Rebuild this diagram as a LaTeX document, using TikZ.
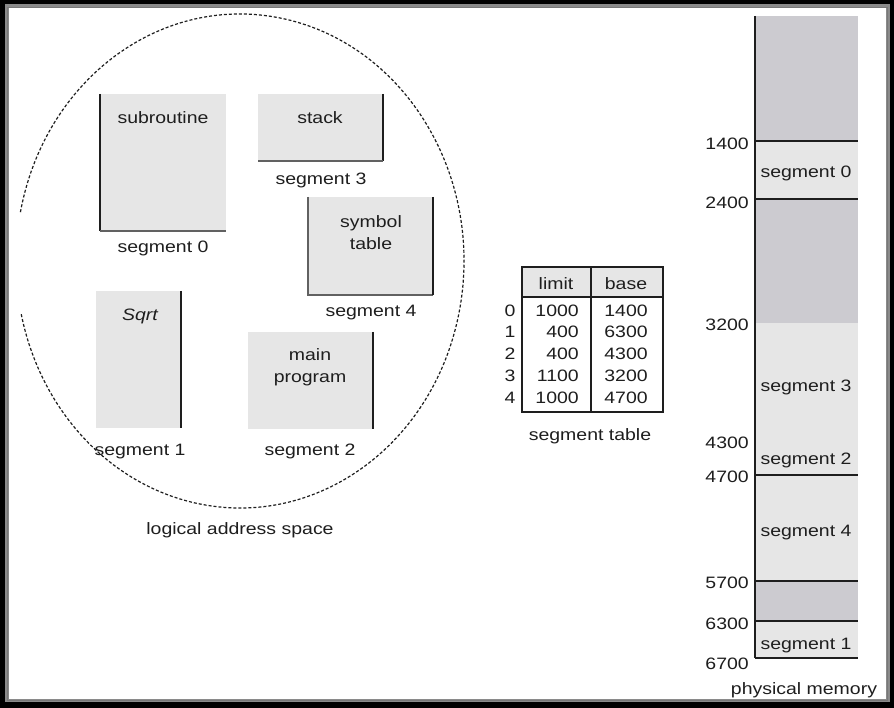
\documentclass[tikz,border=0pt]{standalone}
\usepackage{fontspec}
\setmainfont{Liberation Sans}[FakeStretch=1.18]
\definecolor{lightfill}{HTML}{E6E6E6}
\definecolor{darkfill}{HTML}{CCCBD0}
\definecolor{ink}{HTML}{1E1E1E}
\definecolor{framegray}{HTML}{8A8A8A}
\begin{document}
\begin{tikzpicture}[x=1pt,y=-1pt,
  lbl/.style={font=\fontsize{16.5}{22}\selectfont, text=ink, inner sep=0pt, anchor=mid, yshift=-4pt},
  mlbl/.style={font=\fontsize{16.5}{22}\selectfont, text=ink, inner sep=0pt, align=center, anchor=center, yshift=-1pt},
  edgeline/.style={draw=ink, line width=2pt},
  softline/.style={draw=ink!70, line width=1.2pt},
  tabline/.style={draw=ink, line width=1.6pt},
  memline/.style={draw=ink, line width=1.8pt},
  circline/.style={draw=ink, line width=1.2pt, dash pattern=on 3pt off 2pt}]
\useasboundingbox (0,0) rectangle (894,708);
% frame
\fill[black] (0,0) rectangle (894,708);
\fill[framegray] (4.5,4.5) rectangle (889.5,701.5);
\fill[white] (8.5,8.5) rectangle (886,698.5);
\draw[ink!60, line width=0.8pt] (7,7) rectangle (887.5,700);

% logical address space outline
\draw[circline] ([shift={(191.4:224 and 247)}]240,261) arc[start angle=191.4, end angle=527.8, x radius=224, y radius=247];

% subroutine / segment 0
\fill[lightfill] (100,94) rectangle (226,231);
\draw[edgeline] (100,94) -- (100,231);
\draw[softline] (100,231) -- (226,231);
\node[lbl] (sub) at (163,117) {subroutine};
\node[lbl] (s0) at (163,246) {segment 0};

% stack / segment 3
\fill[lightfill] (258,94) rectangle (383,161);
\draw[edgeline] (383,94) -- (383,161);
\draw[softline] (258,161) -- (383,161);
\node[lbl] (stk) at (320,117) {stack};
\node[lbl] (s3) at (321,178) {segment 3};

% symbol table / segment 4
\fill[lightfill] (308,197) rectangle (433,295);
\draw[softline] (308,197) -- (308,295) -- (433,295);
\draw[edgeline] (433,197) -- (433,295);
\node[mlbl] (sym) at (371,232) {symbol\\table};
\node[lbl] (s4) at (371,310) {segment 4};

% Sqrt / segment 1
\fill[lightfill] (96,291) rectangle (181,428);
\draw[edgeline] (181,291) -- (181,428);
\node[lbl] (sq) at (140,314) {\itshape Sqrt};
\node[lbl] (s1) at (140,449) {segment 1};

% main program / segment 2
\fill[lightfill] (248,332) rectangle (373,429);
\draw[edgeline] (373,332) -- (373,429);
\node[mlbl] (mp) at (310,366) {main\\program};
\node[lbl] (s2) at (310,449) {segment 2};

\node[lbl] (las) at (240,528) {logical address space};

% segment table
\fill[lightfill] (522,267) rectangle (663,297);
\draw[tabline] (522,267) rectangle (663,412);
\draw[tabline] (522,297) -- (663,297);
\draw[tabline] (591,267) -- (591,412);
\node[lbl] (hl) at (556,283) {limit};
\node[lbl] (hb) at (626,283) {base};
\foreach \i/\lim/\bas/\yy in {0/1000/1400/310, 1/400/6300/331, 2/400/4300/353, 3/1100/3200/375, 4/1000/4700/397}{
  \node[lbl] (idx\i) at (510,\yy) {\i};
  \node[lbl, anchor=mid east] (lim\i) at (579,\yy) {\lim};
  \node[lbl] (bas\i) at (626,\yy) {\bas};
}
\node[lbl] (st) at (590,434) {segment table};

% physical memory
\fill[darkfill] (755,16) rectangle (858,141);
\fill[lightfill] (755,141) rectangle (858,199);
\fill[darkfill] (755,199) rectangle (858,323);
\fill[lightfill] (755,323) rectangle (858,581);
\fill[darkfill] (755,581) rectangle (858,621);
\fill[lightfill] (755,621) rectangle (858,658);
\draw[memline] (755,16) -- (755,658);
\foreach \yy in {141,199,475,581,621,658}{
  \draw[memline] (755,\yy) -- (858,\yy);
}
\node[lbl] (m0) at (806,171) {segment 0};
\node[lbl] (m3) at (806,385) {segment 3};
\node[lbl] (m2) at (806,458) {segment 2};
\node[lbl] (m4) at (806,530) {segment 4};
\node[lbl] (m1) at (806,643) {segment 1};
\foreach \v/\yy in {1400/143,2400/202,3200/324,4300/442,4700/476,5700/582,6300/623,6700/663}{
  \node[lbl, anchor=mid east] (a\v) at (749,\yy) {\v};
}
\node[lbl] (pm) at (804,688) {physical memory};
\end{tikzpicture}
\end{document}
